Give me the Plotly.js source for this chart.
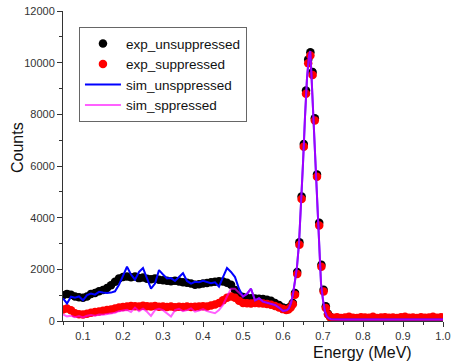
<!DOCTYPE html>
<html>
<head>
<meta charset="utf-8">
<script src="https://cdn.plot.ly/plotly-3.0.1.min.js"></script>
<style>html,body{margin:0;padding:0;background:#fff;}#chart{width:451px;height:364px;}</style>
</head>
<body>
<div id="chart"></div>
<script>
// Experimental spectra (energy in MeV, counts)
var expEnergy = [0.05,0.06,0.07,0.08,0.09,0.10,0.11,0.12,0.13,0.14,0.15,0.16,0.17,0.18,0.19,0.20,0.21,0.22,0.23,0.24,0.25,0.26,0.27,0.28,0.29,0.30,0.31,0.32,0.33,0.34,0.35,0.36,0.37,0.38,0.39,0.40,0.41,0.42,0.43,0.44,0.45,0.46,0.47,0.48,0.49,0.50,0.51,0.52,0.53,0.54,0.55,0.56,0.57,0.58,0.59,0.60,
  0.608,0.6135,0.619,0.6245,0.63,0.6355,0.641,0.6465,0.652,0.6575,0.663,0.6685,0.674,0.6795,0.685,0.6905,0.696,0.7015,0.707,0.7125,0.718,
  0.725,0.735,0.745,0.755,0.765,0.775,0.785,0.795,0.805,0.815,0.825,0.835,0.845,0.855,0.865,0.875,0.885,0.895,0.905,0.915,0.925,0.935,0.945,0.955,0.965,0.975,0.985,0.995];
var expUnsuppressed = [1000,1050,1020,950,920,900,950,1050,1080,1150,1200,1280,1380,1520,1650,1700,1720,1690,1720,1660,1680,1640,1620,1650,1600,1580,1560,1540,1560,1530,1500,1480,1450,1400,1420,1450,1470,1500,1520,1540,1530,1480,1400,1200,1000,930,890,880,870,860,850,820,780,700,620,520,
  480,500,560,700,1080,1900,3050,4820,6850,8920,10120,10400,9640,7850,5670,3800,2180,1210,570,280,160,
  110,100,95,105,90,100,95,110,100,90,105,95,100,110,95,90,100,105,95,100,90,105,100,95,110,100,95,105];
var expSuppressed = [450,480,420,300,260,250,280,320,350,370,400,430,450,480,520,540,560,580,570,560,590,570,560,580,550,560,540,560,530,550,540,560,540,550,560,570,560,600,640,700,800,900,950,900,780,700,690,680,700,690,680,660,630,580,520,460,
  430,450,520,650,1020,1820,2950,4720,6750,8800,9980,10280,9520,7760,5580,3700,2100,1140,500,250,150,
  130,150,120,140,160,130,120,150,140,130,160,120,140,150,130,140,120,150,160,130,140,120,150,130,140,160,130,150];

// Simulated spectra
var simEnergy = [0.05,0.06,0.07,0.08,0.09,0.10,0.11,0.12,0.13,0.14,0.15,0.16,0.17,0.18,0.19,0.20,0.21,0.22,0.23,0.24,0.25,0.26,0.27,0.28,0.29,0.30,0.31,0.32,0.33,0.34,0.35,0.36,0.37,0.38,0.39,0.40,0.41,0.42,0.43,0.44,0.45,0.46,0.47,0.48,0.49,0.50,0.51,0.52,0.53,0.54,0.55,0.56,0.57,0.58,0.59,0.60,
  0.61,0.615,0.62,0.625,0.63,0.635,0.64,0.645,0.65,0.655,0.66,0.665,0.668,0.67,0.675,0.68,0.685,0.69,0.695,0.70,0.705,0.71,0.715,0.72,0.73,
  0.75,0.80,0.85,0.90,0.95,1.0];
var simUnsuppressed = [880,680,940,900,950,800,1000,1060,1020,1130,1100,1080,1100,1150,1400,1750,2100,1800,1600,1900,2050,1650,1250,1450,1970,1800,1650,1660,1550,1700,1850,1550,1450,1520,1500,1560,1500,1460,1500,1330,1700,2050,1900,1700,1250,950,1050,1250,800,880,750,700,660,620,520,390,
  420,500,700,1050,1550,2100,3000,4400,6100,7900,9400,10250,10450,9900,8100,6350,4600,2850,1460,810,360,170,100,70,60,
  60,55,60,55,60,55];
var simSuppressed = [260,180,200,150,190,140,200,230,200,250,240,260,300,320,380,420,430,350,520,380,480,360,200,420,470,420,300,170,420,470,380,420,490,360,400,460,380,330,300,420,620,950,1250,1250,1100,950,1050,1250,800,880,750,700,660,620,520,390,
  420,500,700,1050,1550,2100,3000,4400,6100,7900,9400,10250,10450,9900,8100,6350,4600,2850,1460,810,360,170,100,70,60,
  60,55,60,55,60,55];

var seriesNames = ['exp_unsuppressed','exp_suppressed','sim_unsppressed','sim_sppressed'];

var traces = [
  {x: expEnergy, y: expUnsuppressed, name: seriesNames[0], type: 'scatter', mode: 'markers',
   marker: {color: '#000000', size: 8.5, line: {width: 0}}},
  {x: expEnergy, y: expSuppressed, name: seriesNames[1], type: 'scatter', mode: 'markers',
   marker: {color: '#ff0000', size: 8.5, line: {width: 0}}},
  {x: simEnergy, y: simUnsuppressed, name: seriesNames[2], type: 'scatter', mode: 'lines',
   line: {color: '#0000ff', width: 2}},
  {x: simEnergy, y: simSuppressed, name: seriesNames[3], type: 'scatter', mode: 'lines',
   line: {color: 'rgba(255,0,255,0.62)', width: 2}}
];

var axisColor = '#333333';
var layout = {
  width: 451, height: 364,
  margin: {l: 63, r: 8, t: 11, b: 43},
  paper_bgcolor: '#ffffff', plot_bgcolor: '#ffffff',
  font: {family: 'Liberation Sans, Arial, sans-serif', color: '#000'},
  showlegend: true,
  legend: {x: 0.042, y: 0.948, xanchor: 'left', yanchor: 'top',
    bgcolor: '#ffffff', bordercolor: '#666666', borderwidth: 1,
    font: {size: 13.5, color: '#111'}, itemwidth: 36, tracegroupgap: 0},
  xaxis: {range: [0.05, 1.0], showgrid: false, zeroline: false,
    showline: true, linecolor: axisColor, linewidth: 1,
    ticks: 'outside', ticklen: 5, tickcolor: axisColor, tickwidth: 1,
    tick0: 0, dtick: 0.1, tickformat: '.1f',
    tickfont: {size: 11, color: '#333'},
    minor: {ticks: 'outside', ticklen: 3, dtick: 0.05, tickcolor: axisColor, showgrid: false}},
  yaxis: {range: [0, 12000], showgrid: false, zeroline: false,
    showline: true, linecolor: axisColor, linewidth: 1,
    ticks: 'outside', ticklen: 5, tickcolor: axisColor, tickwidth: 1,
    tick0: 0, dtick: 2000, tickformat: 'd',
    tickfont: {size: 11, color: '#333'},
    minor: {ticks: 'outside', ticklen: 3, dtick: 1000, tickcolor: axisColor, showgrid: false}},
  xaxis2: {range: [0.05, 1.0], overlaying: 'x', side: 'top', showgrid: false, zeroline: false,
    showline: true, linecolor: axisColor, linewidth: 1,
    ticks: 'inside', ticklen: 5, tickcolor: axisColor, tick0: 0, dtick: 0.05,
    showticklabels: false},
  yaxis2: {range: [0, 12000], overlaying: 'y', side: 'right', showgrid: false, zeroline: false,
    showline: true, linecolor: axisColor, linewidth: 1,
    ticks: 'inside', ticklen: 5, tickcolor: axisColor, tick0: 0, dtick: 1000,
    showticklabels: false},
  annotations: [
    {text: 'Counts', xref: 'paper', yref: 'paper', x: -0.121, y: 0.558,
     xanchor: 'center', yanchor: 'middle', textangle: -90, showarrow: false,
     font: {size: 16, color: '#111'}},
    {text: 'Energy (MeV)', xref: 'paper', yref: 'paper', x: 0.787, y: -0.103,
     xanchor: 'center', yanchor: 'middle', showarrow: false,
     font: {size: 16, color: '#111'}}
  ]
};

Plotly.newPlot('chart', traces, layout, {displayModeBar: false, staticPlot: true});
</script>
</body>
</html>
